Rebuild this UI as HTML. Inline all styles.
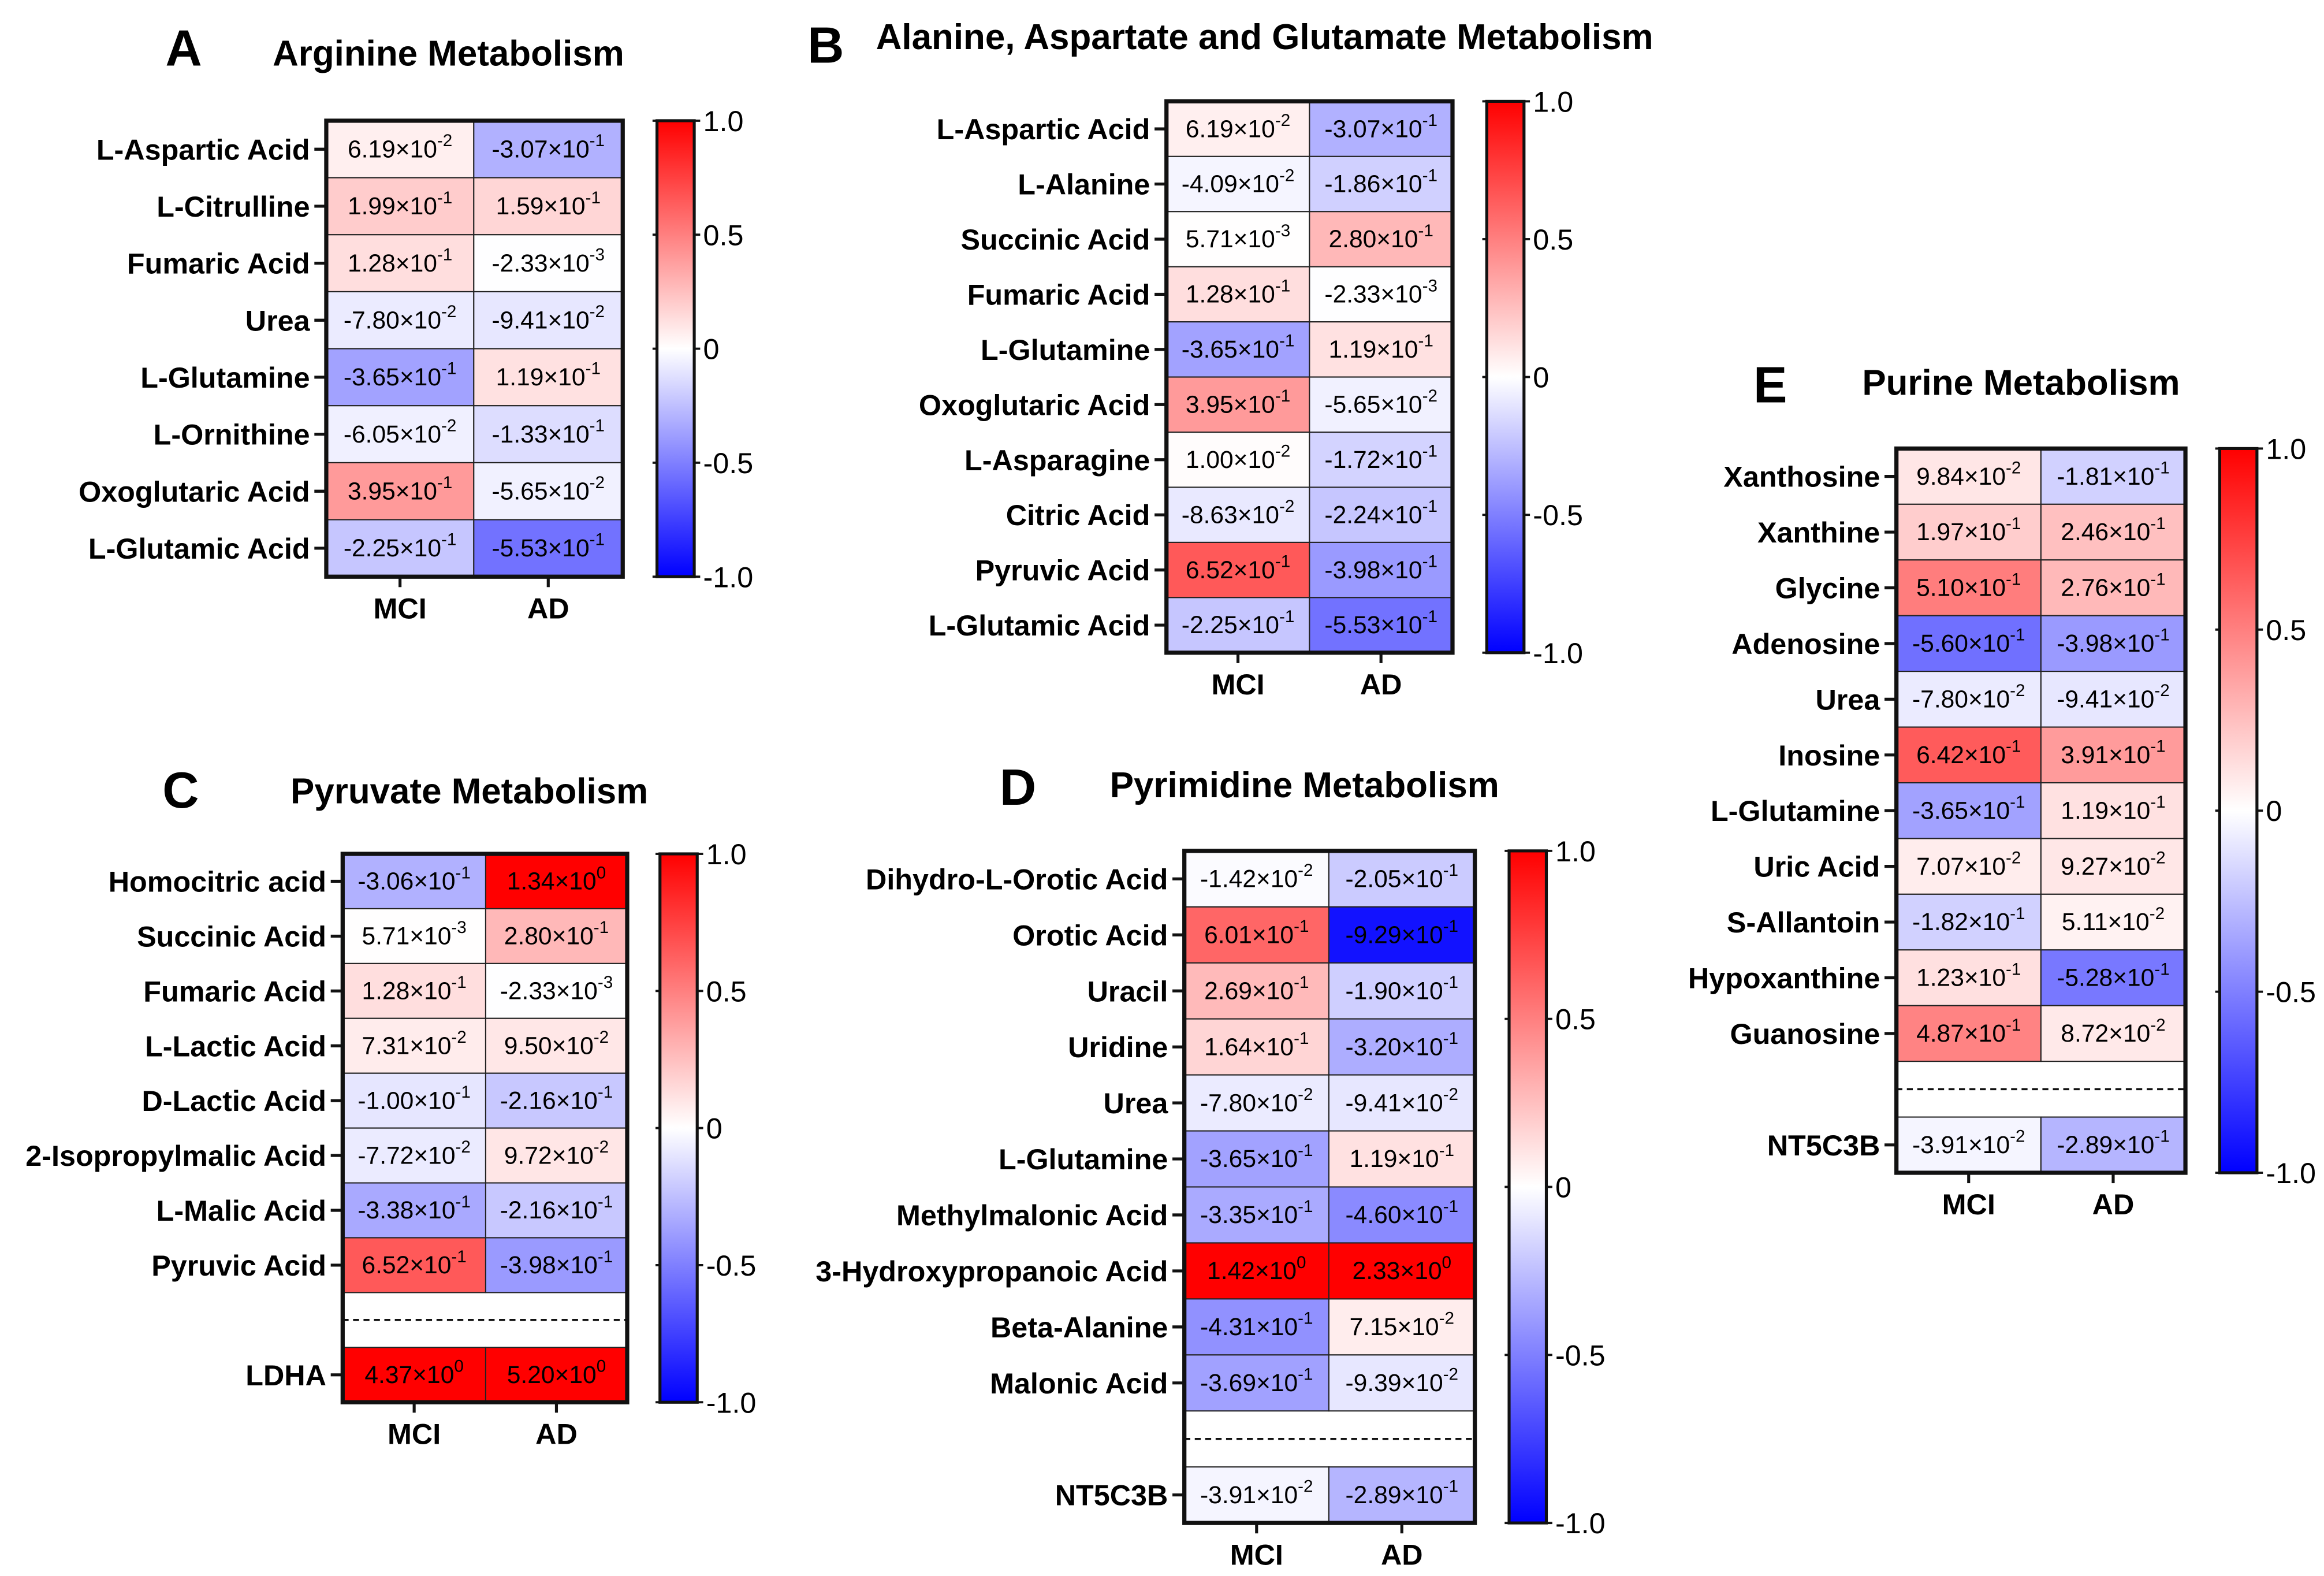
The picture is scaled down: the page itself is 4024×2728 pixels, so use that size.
<!DOCTYPE html>
<html><head><meta charset="utf-8">
<style>
html,body{margin:0;padding:0;background:#fff;}
svg{display:block;}
text{font-family:"Liberation Sans",Arial,sans-serif;}
</style></head>
<body>
<svg id="fig" width="4024" height="2728" viewBox="0 0 1560 1057.6" xmlns="http://www.w3.org/2000/svg">
<defs>
<linearGradient id="cbar" x1="0" y1="0" x2="0" y2="1">
<stop offset="0" stop-color="#ff0000"/><stop offset="0.5" stop-color="#ffffff"/><stop offset="1" stop-color="#0000ff"/>
</linearGradient>
</defs>
</svg>
<script>
const categories = ["MCI", "AD"];
// Panel A
const labelsA = ["L-Aspartic Acid","L-Citrulline","Fumaric Acid","Urea","L-Glutamine","L-Ornithine","Oxoglutaric Acid","L-Glutamic Acid"];
const mciA = [6.19e-2,1.99e-1,1.28e-1,-7.80e-2,-3.65e-1,-6.05e-2,3.95e-1,-2.25e-1];
const adA  = [-3.07e-1,1.59e-1,-2.33e-3,-9.41e-2,1.19e-1,-1.33e-1,-5.65e-2,-5.53e-1];
// Panel B
const labelsB = ["L-Aspartic Acid","L-Alanine","Succinic Acid","Fumaric Acid","L-Glutamine","Oxoglutaric Acid","L-Asparagine","Citric Acid","Pyruvic Acid","L-Glutamic Acid"];
const mciB = [6.19e-2,-4.09e-2,5.71e-3,1.28e-1,-3.65e-1,3.95e-1,1.00e-2,-8.63e-2,6.52e-1,-2.25e-1];
const adB  = [-3.07e-1,-1.86e-1,2.80e-1,-2.33e-3,1.19e-1,-5.65e-2,-1.72e-1,-2.24e-1,-3.98e-1,-5.53e-1];
// Panel C (null = dashed separator)
const labelsC = ["Homocitric acid","Succinic Acid","Fumaric Acid","L-Lactic Acid","D-Lactic Acid","2-Isopropylmalic Acid","L-Malic Acid","Pyruvic Acid",null,"LDHA"];
const mciC = [-3.06e-1,5.71e-3,1.28e-1,7.31e-2,-1.00e-1,-7.72e-2,-3.38e-1,6.52e-1,null,4.37e0];
const adC  = [1.34e0,2.80e-1,-2.33e-3,9.50e-2,-2.16e-1,9.72e-2,-2.16e-1,-3.98e-1,null,5.20e0];
// Panel D
const labelsD = ["Dihydro-L-Orotic Acid","Orotic Acid","Uracil","Uridine","Urea","L-Glutamine","Methylmalonic Acid","3-Hydroxypropanoic Acid","Beta-Alanine","Malonic Acid",null,"NT5C3B"];
const mciD = [-1.42e-2,6.01e-1,2.69e-1,1.64e-1,-7.80e-2,-3.65e-1,-3.35e-1,1.42e0,-4.31e-1,-3.69e-1,null,-3.91e-2];
const adD  = [-2.05e-1,-9.29e-1,-1.90e-1,-3.20e-1,-9.41e-2,1.19e-1,-4.60e-1,2.33e0,7.15e-2,-9.39e-2,null,-2.89e-1];
// Panel E
const labelsE = ["Xanthosine","Xanthine","Glycine","Adenosine","Urea","Inosine","L-Glutamine","Uric Acid","S-Allantoin","Hypoxanthine","Guanosine",null,"NT5C3B"];
const mciE = [9.84e-2,1.97e-1,5.10e-1,-5.60e-1,-7.80e-2,6.42e-1,-3.65e-1,7.07e-2,-1.82e-1,1.23e-1,4.87e-1,null,-3.91e-2];
const adE  = [-1.81e-1,2.46e-1,2.76e-1,-3.98e-1,-9.41e-2,3.91e-1,1.19e-1,9.27e-2,5.11e-2,-5.28e-1,8.72e-2,null,-2.89e-1];
const cbTicks = [1.0, 0.5, 0, -0.5, -1.0];
const cbTickLabels = ["1.0","0.5","0","-0.5","-1.0"];

const NS = "http://www.w3.org/2000/svg";
const svg = document.getElementById("fig");
function el(tag, attrs, parent){
  const e = document.createElementNS(NS, tag);
  for (const k in attrs) e.setAttribute(k, attrs[k]);
  (parent||svg).appendChild(e);
  return e;
}
function color(v){
  const c = Math.max(-1, Math.min(1, v));
  if (c >= 0){ const g = Math.round(255*(1-c)); return `rgb(255,${g},${g})`; }
  const g = Math.round(255*(1+c)); return `rgb(${g},${g},255)`;
}
function fmt(v){
  const s = v.toExponential(2).split("e");
  return [s[0], String(parseInt(s[1],10))];
}

function panel(p){
  const g = el("g", {});
  
  
  const n = p.labels.length;
  const rh = (p.y1 - p.y0)/n;
  const xm = p.xs;
  const colX = [p.x0, xm], colW = [xm - p.x0, p.x1 - xm];
  const yRow = i => p.y0 + i*rh;
  const L = el("text", {x:p.lx, y:p.ly, "font-size":34, "font-weight":"bold"}, g);
  L.textContent = p.id;
  
  
  const T = el("text", {x:p.tx, y:p.ty, "font-size":24, "font-weight":"bold"}, g);
  T.textContent = p.title;
  
  
  const series = [p.mci, p.ad];
  for (let i=0;i<n;i++){
    const yc = yRow(i) + rh/2;
    if (p.labels[i] === null){
      const dl = el("line", {x1:p.x0, x2:p.x1, y1:yc, y2:yc, stroke:"#111", "stroke-width":1.4, "stroke-dasharray":"4,3"}, g);
      
      
      continue;
    }
    for (let c=0;c<2;c++){
      const v = series[c][i];
      const r = el("rect", {x:colX[c], y:yRow(i), width:colW[c], height:rh, fill:color(v), stroke:"#222", "stroke-width":0.8}, g);
      
      
      const [m, e] = fmt(v);
      const t = el("text", {x:colX[c]+colW[c]/2, y:yc+5.5, "font-size":16.5, "text-anchor":"middle"}, g);
      
      
      const t1 = el("tspan", {}, t); t1.textContent = m + "×10";
      const t2 = el("tspan", {dy:-7.5, "font-size":11.5}, t); t2.textContent = e;
    }
    const lab = el("text", {x:p.x0-11, y:yc+7, "font-size":19.5, "font-weight":"bold", "text-anchor":"end"}, g);
    lab.textContent = p.labels[i];
    
    
    el("line", {x1:p.x0-8, x2:p.x0, y1:yc, y2:yc, stroke:"#111", "stroke-width":2}, g);
  }
  const bx = el("rect", {x:p.x0, y:p.y0, width:p.x1-p.x0, height:p.y1-p.y0, fill:"none", stroke:"#111", "stroke-width":2.8}, g);
  
  
  for (let c=0;c<2;c++){
    const cx = colX[c]+colW[c]/2;
    el("line", {x1:cx, x2:cx, y1:p.y1, y2:p.y1+7, stroke:"#111", "stroke-width":2}, g);
    const ct = el("text", {x:cx, y:p.y1+28, "font-size":19.5, "font-weight":"bold", "text-anchor":"middle"}, g);
    ct.textContent = categories[c];
    
    
  }
  const cb = el("rect", {x:p.cx, y:p.y0, width:25, height:p.y1-p.y0, fill:"url(#cbar)", stroke:"#111", "stroke-width":2}, g);
  
  
  const cy = v => p.y0 + (1 - v)/2*(p.y1-p.y0);
  cbTicks.forEach((v,k)=>{
    const y = cy(v);
    el("line", {x1:p.cx-3, x2:p.cx, y1:y, y2:y, stroke:"#111", "stroke-width":1.5}, g);
    el("line", {x1:p.cx+25, x2:p.cx+29, y1:y, y2:y, stroke:"#111", "stroke-width":1.5}, g);
    const tl = el("text", {x:p.cx+31, y:y+7, "font-size":19.5}, g);
    tl.textContent = cbTickLabels[k];
    
    
  });
}

panel({id:"A", title:"Arginine Metabolism", labels:labelsA, mci:mciA, ad:adA,
  x0:219, xs:318, x1:418, y0:81, y1:387, cx:441, lx:111, ly:44, tx:183, ty:44});
panel({id:"B", title:"Alanine, Aspartate and Glutamate Metabolism", labels:labelsB, mci:mciB, ad:adB,
  x0:783, xs:879, x1:975, y0:68, y1:438, cx:998, lx:542, ly:42, tx:588, ty:33});
panel({id:"C", title:"Pyruvate Metabolism", labels:labelsC, mci:mciC, ad:adC,
  x0:230, xs:326, x1:421, y0:573, y1:941, cx:443, lx:109, ly:542, tx:195, ty:539});
panel({id:"D", title:"Pyrimidine Metabolism", labels:labelsD, mci:mciD, ad:adD,
  x0:795, xs:892, x1:990, y0:571, y1:1022, cx:1013, lx:671, ly:540, tx:745, ty:535});
panel({id:"E", title:"Purine Metabolism", labels:labelsE, mci:mciE, ad:adE,
  x0:1273, xs:1370, x1:1467, y0:301, y1:787, cx:1490, lx:1177, ly:270, tx:1250, ty:265});
</script>
</body></html>
